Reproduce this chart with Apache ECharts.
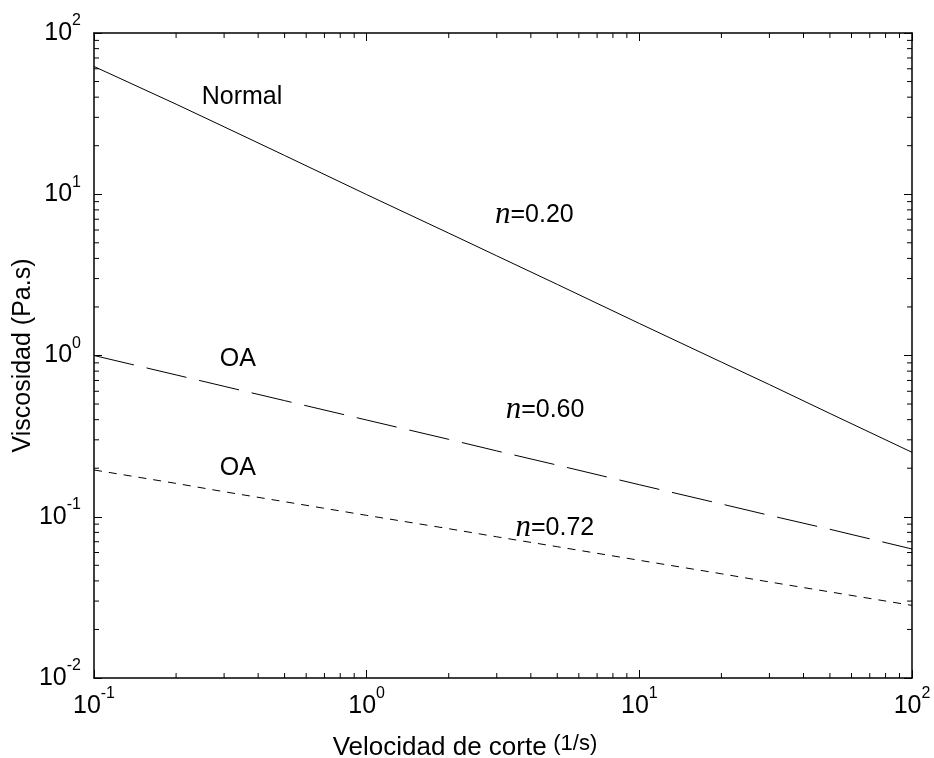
<!DOCTYPE html>
<html>
<head>
<meta charset="utf-8">
<script src="https://cdn.jsdelivr.net/npm/echarts@6/dist/echarts.min.js"></script>
<style>
  html, body { margin: 0; padding: 0; background: #fff; }
  #chart { width: 934px; height: 758px; }
</style>
</head>
<body>
<div id="chart"></div>
<script>
// Shear rate (1/s) sampled along each curve
const shearRate = [0.1, 0.2, 0.3, 0.5, 1, 2, 3, 5, 10, 20, 30, 50, 100];
// Viscosity (Pa.s) for each fluid
const viscNormal  = [62, 36.2, 26.2, 17.4, 9.95, 5.74, 4.15, 2.76, 1.58, 0.91, 0.66, 0.437, 0.251];
const viscOALong  = [1.0, 0.758, 0.644, 0.525, 0.398, 0.302, 0.256, 0.209, 0.158, 0.120, 0.102, 0.0836, 0.0631];
const viscOAShort = [0.195, 0.161, 0.143, 0.124, 0.102, 0.0843, 0.0751, 0.0652, 0.0537, 0.0443, 0.0394, 0.0342, 0.0282];

// Axis ranges and decade tick values
const X_MIN = 0.1, X_MAX = 100;
const Y_MIN = 0.01, Y_MAX = 100;
const xDecades = [0.1, 1, 10, 100];
const yDecades = [0.01, 0.1, 1, 10, 100];

// Curve annotations, anchored in data coordinates
const annotations = [
  { text: 'Normal', x: 0.349, y: 39.8 },
  { text: 'OA', x: 0.337, y: 0.95 },
  { text: 'OA', x: 0.337, y: 0.2 },
  { n: '0.20', x: 4.12, y: 7.45 },
  { n: '0.60', x: 4.51, y: 0.46 },
  { n: '0.72', x: 4.90, y: 0.085 }
];

// Minor (2..9) tick values inside each decade
function minorTicks(decades) {
  const out = [];
  for (let i = 0; i < decades.length - 1; i++) {
    for (let m = 2; m <= 9; m++) out.push(+(m * decades[i]).toPrecision(3));
  }
  return out;
}
const xMinor = minorTicks(xDecades);
const yMinor = minorTicks(yDecades);

const SANS = "'Liberation Sans', Arial, Helvetica, sans-serif";
const SERIF = "'Liberation Serif', 'Times New Roman', serif";

const powRich = {
  b: { fontFamily: SANS, fontSize: 25, lineHeight: 40, color: '#000' },
  e: { fontFamily: SANS, fontSize: 16, lineHeight: 16, verticalAlign: 'top', color: '#000' }
};
function powLabel(v) {
  const e = Math.round(Math.log10(v));
  return '{b|10}{e|' + e + '}';
}

const axisLine = { show: true, lineStyle: { color: '#000', width: 1.5 } };
const majorTick = { show: true, inside: true, length: 8, lineStyle: { color: '#000', width: 1 } };

function pairs(xs, ys) { return xs.map((x, i) => [x, ys[i]]); }

const chart = echarts.init(document.getElementById('chart'), null, { renderer: 'canvas' });

chart.setOption({
  animation: false,
  backgroundColor: '#fff',
  grid: { left: 94, right: 22, top: 33, bottom: 80, containLabel: false, outerBoundsMode: 'none' },
  xAxis: [
    {
      type: 'log', logBase: 10, min: X_MIN, max: X_MAX, position: 'bottom',
      axisLine, axisTick: majorTick, splitLine: { show: false },
      axisLabel: { show: true, margin: 8, formatter: powLabel, rich: powRich },
      name: '{t|Velocidad de corte}  {u|(1/s)}',
      nameLocation: 'middle', nameGap: 55, nameMoveOverlap: false,
      nameTextStyle: {
        padding: [0, 76, 0, 0],
        rich: {
          t: { fontFamily: SANS, fontSize: 26, lineHeight: 30, color: '#000' },
          u: { fontFamily: SANS, fontSize: 22, lineHeight: 20, verticalAlign: 'top', color: '#000' }
        }
      }
    },
    {
      type: 'log', logBase: 10, min: X_MIN, max: X_MAX, position: 'top',
      axisLine, axisTick: majorTick, splitLine: { show: false },
      axisLabel: { show: false }
    }
  ],
  yAxis: [
    {
      type: 'log', logBase: 10, min: Y_MIN, max: Y_MAX, position: 'left',
      axisLine, axisTick: majorTick, splitLine: { show: false },
      axisLabel: { show: true, margin: 13, formatter: powLabel, rich: powRich },
      name: 'Viscosidad (Pa.s)', nameLocation: 'middle', nameGap: 58, nameMoveOverlap: false,
      nameTextStyle: { fontFamily: SANS, fontSize: 25, color: '#000' }
    },
    {
      type: 'log', logBase: 10, min: Y_MIN, max: Y_MAX, position: 'right',
      axisLine, axisTick: majorTick, splitLine: { show: false },
      axisLabel: { show: false }
    }
  ],
  series: [
    {
      name: 'Normal', type: 'line', data: pairs(shearRate, viscNormal),
      showSymbol: false, symbol: 'none',
      lineStyle: { color: '#000', width: 1 }
    },
    {
      name: 'OA n=0.60', type: 'line', data: pairs(shearRate, viscOALong),
      showSymbol: false, symbol: 'none',
      lineStyle: { color: '#000', width: 1, type: [41, 13] }
    },
    {
      name: 'OA n=0.72', type: 'line', data: pairs(shearRate, viscOAShort),
      showSymbol: false, symbol: 'none',
      lineStyle: { color: '#000', width: 1, type: [8, 7] }
    },
    {
      // minor ticks on bottom and top edges
      type: 'custom', clip: false, silent: true,
      data: xMinor.map(v => [v, Y_MIN]),
      renderItem(params, api) {
        const v = api.value(0);
        const b = api.coord([v, Y_MIN]);
        const t = api.coord([v, Y_MAX]);
        const st = { stroke: '#000', lineWidth: 1 };
        return { type: 'group', children: [
          { type: 'line', shape: { x1: b[0], y1: b[1], x2: b[0], y2: b[1] - 5 }, style: st },
          { type: 'line', shape: { x1: t[0], y1: t[1], x2: t[0], y2: t[1] + 5 }, style: st }
        ] };
      }
    },
    {
      // minor ticks on left and right edges
      type: 'custom', clip: false, silent: true,
      data: yMinor.map(v => [X_MIN, v]),
      renderItem(params, api) {
        const v = api.value(1);
        const l = api.coord([X_MIN, v]);
        const r = api.coord([X_MAX, v]);
        const st = { stroke: '#000', lineWidth: 1 };
        return { type: 'group', children: [
          { type: 'line', shape: { x1: l[0], y1: l[1], x2: l[0] + 5, y2: l[1] }, style: st },
          { type: 'line', shape: { x1: r[0], y1: r[1], x2: r[0] - 5, y2: r[1] }, style: st }
        ] };
      }
    },
    {
      // curve annotations
      type: 'scatter', silent: true, symbolSize: 0,
      itemStyle: { opacity: 1 },
      data: annotations.map(a => ({ value: [a.x, a.y], ann: a })),
      label: {
        show: true, position: 'inside', color: '#000', textBorderWidth: 0,
        formatter(p) {
          const a = p.data.ann;
          return a.n ? '{n|n}{v|=' + a.n + '}' : '{s|' + a.text + '}';
        },
        rich: {
          s: { fontFamily: SANS, fontSize: 25, color: '#000' },
          n: { fontFamily: SERIF, fontStyle: 'italic', fontSize: 31, color: '#000' },
          v: { fontFamily: SANS, fontSize: 25, color: '#000' }
        }
      }
    }
  ]
});
</script>
</body>
</html>
